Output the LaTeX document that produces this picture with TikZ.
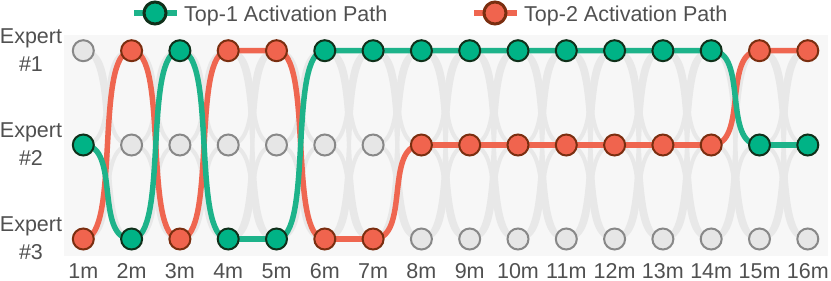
\documentclass[tikz,border=0pt]{standalone}
\usepackage{fontspec}
\setmainfont{Liberation Sans}
\usetikzlibrary{calc}
\definecolor{bgc}{HTML}{F7F7F7}
\definecolor{bgline}{HTML}{E8E8E8}
\definecolor{gfill}{HTML}{00B386}
\definecolor{gline}{HTML}{1DB38A}
\definecolor{gdraw}{HTML}{10301A}
\definecolor{rfill}{HTML}{F0644E}
\definecolor{rline}{HTML}{EF6650}
\definecolor{rdraw}{HTML}{7A2E10}
\definecolor{ifill}{HTML}{E6E6E6}
\definecolor{idraw}{HTML}{888888}
\definecolor{txt}{HTML}{505050}
\def\kk{0.78}
\begin{document}
\begin{tikzpicture}[x=1pt,y=-1pt,
  bgcurve/.style={draw=bgline,line width=4pt},
  top1line/.style={draw=gline,line width=5.5pt},
  top2line/.style={draw=rline,line width=5.5pt},
  dot/.style={circle,inner sep=0pt,minimum size=21pt,line width=2pt},
  gnode/.style={dot,fill=gfill,draw=gdraw},
  rnode/.style={dot,fill=rfill,draw=rdraw},
  inode/.style={dot,fill=ifill,draw=idraw},
  legdot/.style={minimum size=22pt,line width=3pt},
  lbl/.style={text=txt,font=\fontsize{21.5}{28}\selectfont,inner sep=0pt},
  ylbl/.style={lbl,align=center}
]
\useasboundingbox (0,0) rectangle (831,281);
\fill[bgc] (64,35) rectangle (828,256);
\foreach \i in {1,...,16}{
  \foreach \r/\y in {1/50.7,2/145,3/239}{
    \coordinate (p-\i-\r) at ({83.3+48.3*(\i-1)},\y);
  }
}
% background curves
\foreach \i in {1,...,15}{
  \pgfmathtruncatemacro\j{\i+1}
  \foreach \a/\b in {1/2,1/3,2/1,2/3,3/1,3/2}{
    \draw[bgcurve] (p-\i-\a) .. controls ($(p-\i-\a)!\kk!(p-\j-\a)$) and ($(p-\j-\b)!\kk!(p-\i-\b)$) .. (p-\j-\b);
  }
}
% top-2 path
\foreach \i/\a/\b in {1/3/1,2/1/3,3/3/1,4/1/1,5/1/3,6/3/3,7/3/2,8/2/2,9/2/2,10/2/2,11/2/2,12/2/2,13/2/2,14/2/1,15/1/1}{
  \pgfmathtruncatemacro\j{\i+1}
  \draw[top2line] (p-\i-\a) .. controls ($(p-\i-\a)!\kk!(p-\j-\a)$) and ($(p-\j-\b)!\kk!(p-\i-\b)$) .. (p-\j-\b);
}
% top-1 path
\foreach \i/\a/\b in {1/2/3,2/3/1,3/1/3,4/3/3,5/3/1,6/1/1,7/1/1,8/1/1,9/1/1,10/1/1,11/1/1,12/1/1,13/1/1,14/1/2,15/2/2}{
  \pgfmathtruncatemacro\j{\i+1}
  \draw[top1line] (p-\i-\a) .. controls ($(p-\i-\a)!\kk!(p-\j-\a)$) and ($(p-\j-\b)!\kk!(p-\i-\b)$) .. (p-\j-\b);
}
% nodes
\foreach \i/\g/\r in {1/2/3,2/3/1,3/1/3,4/3/1,5/3/1,6/1/3,7/1/3,8/1/2,9/1/2,10/1/2,11/1/2,12/1/2,13/1/2,14/1/2,15/2/1,16/2/1}{
  \pgfmathtruncatemacro\k{6-\g-\r}
  \node[gnode] (g-\i) at (p-\i-\g) {};
  \node[rnode] (r-\i) at (p-\i-\r) {};
  \node[inode] (o-\i) at (p-\i-\k) {};
  \node[lbl,anchor=base] (x-\i) at ({83.3+48.3*(\i-1)},278) {\i m};
}
% y labels
\node[ylbl] (e1) at (31,50) {Expert\\\#1};
\node[ylbl] (e2) at (31,144) {Expert\\\#2};
\node[ylbl] (e3) at (31,238) {Expert\\\#3};
% legend
\coordinate (l1a) at (134,13);
\coordinate (l1b) at (177,13);
\draw[top1line] (l1a) -- (l1b);
\node[gnode,legdot] (l1c) at (155,13) {};
\node[lbl,anchor=base west] (l1t) at (184,21) {Top-1 Activation Path};
\coordinate (l2a) at (474,13);
\coordinate (l2b) at (517,13);
\draw[top2line] (l2a) -- (l2b);
\node[rnode,legdot] (l2c) at (495,13) {};
\node[lbl,anchor=base west] (l2t) at (524,21) {Top-2 Activation Path};
\end{tikzpicture}
\end{document}
